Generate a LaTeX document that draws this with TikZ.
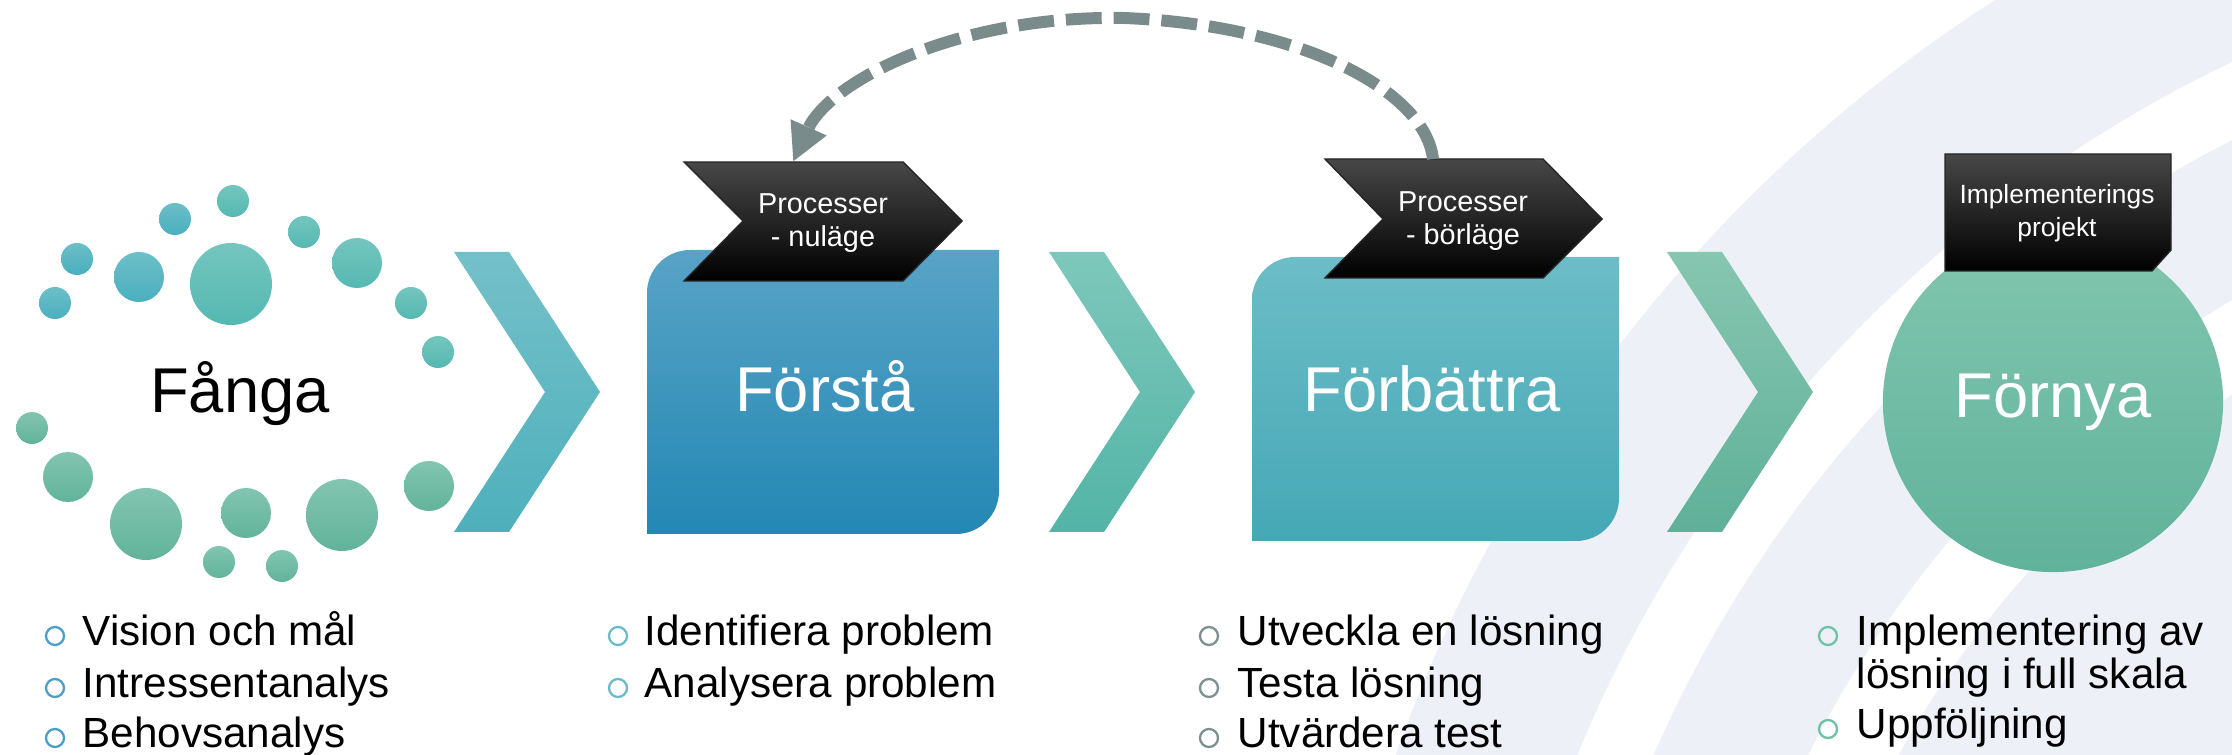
\documentclass[tikz,border=0pt]{standalone}
\usepackage{fontspec}
\setmainfont{Liberation Sans}
\usepackage{tikz}
\usetikzlibrary{positioning,shapes,arrows.meta}

\definecolor{chevAt}{HTML}{74C0C9}\definecolor{chevAb}{HTML}{4EB0BC}
\definecolor{chevBt}{HTML}{7EC8BB}\definecolor{chevBb}{HTML}{52B4A6}
\definecolor{chevCt}{HTML}{87C6B1}\definecolor{chevCb}{HTML}{5FB098}
\definecolor{forstat}{HTML}{58A3C6}\definecolor{forstab}{HTML}{2388B4}
\definecolor{forbt}{HTML}{6CBDC7}\definecolor{forbb}{HTML}{45A8B5}
\definecolor{fornt}{HTML}{82C6AF}\definecolor{fornb}{HTML}{60B29A}
\definecolor{dotbt}{HTML}{6CBFC8}\definecolor{dotbb}{HTML}{4AAFBE}
\definecolor{dottt}{HTML}{74C6BE}\definecolor{dottb}{HTML}{55B8B2}
\definecolor{dotgt}{HTML}{82C5B0}\definecolor{dotgb}{HTML}{62B39A}
\definecolor{loopc}{HTML}{7A8B8C}
\definecolor{bgband}{HTML}{EDF1F7}
\definecolor{bulA}{HTML}{4A9EC8}\definecolor{bulB}{HTML}{6DBBC9}
\definecolor{bulC}{HTML}{7E8F90}\definecolor{bulD}{HTML}{6FC1A6}

\begin{document}
\begin{tikzpicture}
  [x=0.01cm,y=0.01cm,every node/.style={inner sep=0pt},
   stage/.style={font=\fontsize{18}{22}\selectfont},
   tagtext/.style={text=white,align=center,font=\fontsize{8.2}{9.4}\selectfont},
   tagfill/.style={top color=black!72,middle color=black,bottom color=black,draw=black!85,line width=0.4pt},
   item/.style={anchor=base west,align=left,font=\fontsize{12}{12.3}\selectfont},
   bul/.style={line width=0.65pt},
   loopline/.style={loopc,line width=3.4pt,dash pattern=on 10.2pt off 3.4pt,-{Triangle[length=10.8pt,width=10.4pt]}}]
  \useasboundingbox (0,0) rectangle (2232,754);

  \begin{scope}
    \clip (0,0) rectangle (2232,754);
    \fill[bgband] (2800,-500) circle[radius=1490];
    \fill[white] (2800,-500) circle[radius=1320];
    \fill[bgband] (2800,-500) circle[radius=1250];
    \fill[white] (2800,-500) circle[radius=1110];
    \fill[bgband] (2800,-500) circle[radius=1030];
  \end{scope}

  \foreach \x/\y/\r in {175/535/16, 77/495/16, 139/477/25, 55/451/16}
    \shade[top color=dotbt,bottom color=dotbb] (\x,\y) circle[radius=\r];
  \foreach \x/\y/\r in {233/553/16, 304/522/16, 231/470/41, 357/491/25, 411/451/16, 438/402/16}
    \shade[top color=dottt,bottom color=dottb] (\x,\y) circle[radius=\r];
  \foreach \x/\y/\r in {32/326/16, 68/277/25, 146/230/36, 246/241/25, 342/239/36, 429/268/25, 219/192/16, 282/188/16}
    \shade[top color=dotgt,bottom color=dotgb] (\x,\y) circle[radius=\r];
  \node[stage,anchor=base] (fanga) at (240,341) {Fånga};

  \foreach \x/\ct/\cb in {454/chevAt/chevAb, 1049/chevBt/chevBb, 1667/chevCt/chevCb}
    \shade[top color=\ct,bottom color=\cb] (\x,502) -- ++(55,0) -- ++(91,-140) -- ++(-91,-140) -- ++(-55,0) -- ++(91,140) -- cycle;

  \shade[top color=forstat,bottom color=forstab] (647,220) -- (647,461) arc[start angle=180,end angle=90,radius=43]
    -- (999,504) -- (999,263) arc[start angle=0,end angle=-90,radius=43] -- cycle;
  \node[stage,anchor=base,text=white] (forsta) at (825,342) {Förstå};
  \shade[tagfill] (684,592) -- (903,592) -- (962,533) -- (903,473) -- (684,473) -- (743,533) -- cycle;
  \node[tagtext] (tag1) at (823,531) {Processer\\- nuläge};
  \coordinate (tag1top) at (793,592);

  \shade[top color=forbt,bottom color=forbb] (1252,213) -- (1252,454) arc[start angle=180,end angle=90,radius=43]
    -- (1619,497) -- (1619,256) arc[start angle=0,end angle=-90,radius=43] -- cycle;
  \node[stage,anchor=base,text=white] (forb) at (1432,342) {Förbättra};
  \shade[tagfill] (1325,595) -- (1543,595) -- (1602,535) -- (1543,476) -- (1325,476) -- (1383,535) -- cycle;
  \node[tagtext] (tag2) at (1463,533) {Processer\\- börläge};
  \coordinate (tag2top) at (1433,595);

  \node[circle,minimum size=3.4cm,top color=fornt,bottom color=fornb,stage,text=white] (fornya) at (2053,352) {Förnya};
  \shade[tagfill] (1945,600) -- (2171,600) -- (2171,504) -- (2152,483) -- (1945,483) -- cycle;
  \node[tagtext,font=\fontsize{7.5}{9.4}\selectfont] (tag3) at (2057,541) {Implementerings\\projekt};

  \draw[loopline] (tag2top) .. controls (1425,664) and (1300,729) .. (1124,736)
    .. controls (960,739) and (830,674) .. (tag1top);

  \foreach \n/\y/\t in {a1/109/Vision och mål, a2/57/Intressentanalys, a3/7/Behovsanalys}
    {\draw[bul,bulA] (55,\y+9) circle[radius=9]; \node[item] (\n) at (82,\y) {\t};}
  \foreach \n/\y/\t in {b1/109/Identifiera problem, b2/57/Analysera problem}
    {\draw[bul,bulB] (618,\y+9) circle[radius=9]; \node[item] (\n) at (644,\y) {\t};}
  \foreach \n/\y/\t in {c1/109/Utveckla en lösning, c2/57/Testa lösning, c3/7/Utvärdera test}
    {\draw[bul,bulC] (1209,\y+9) circle[radius=9]; \node[item] (\n) at (1237,\y) {\t};}
  \foreach \n/\y/\t in {d1/109/Implementering av, d3/16/Uppföljning}
    {\draw[bul,bulD] (1828,\y+9) circle[radius=9]; \node[item] (\n) at (1856,\y) {\t};}
  \node[item] (d2) at (1856,66) {lösning i full skala};
\end{tikzpicture}
\end{document}
